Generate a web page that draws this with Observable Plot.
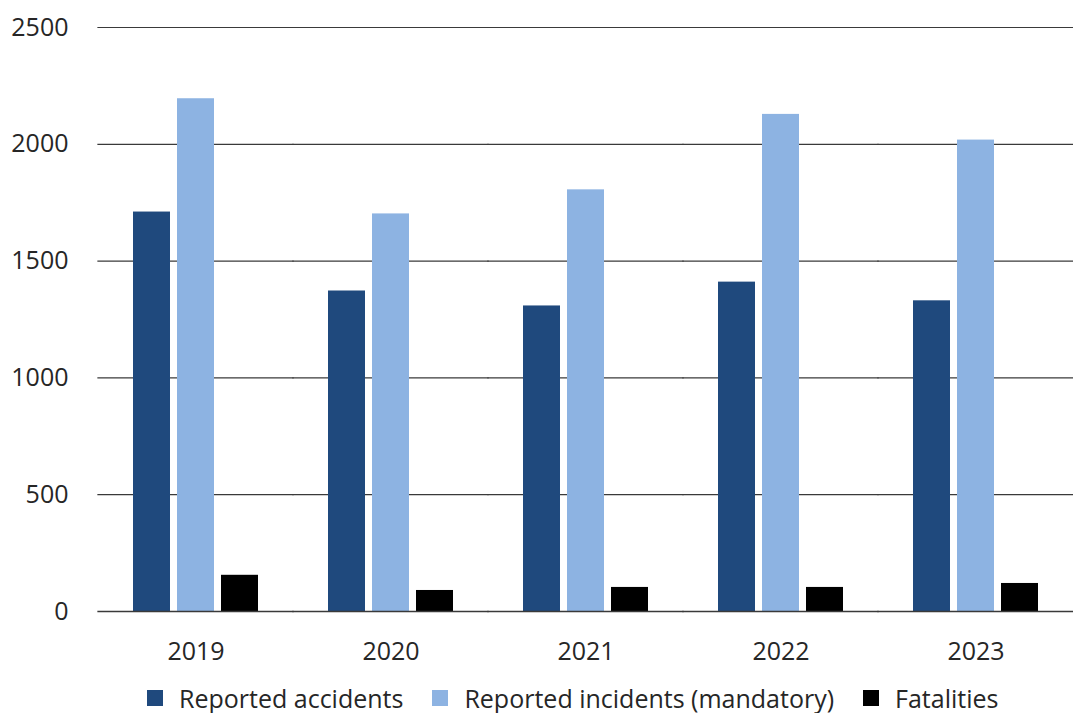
<!DOCTYPE html>
<html>
<head>
<meta charset="utf-8">
<script src="https://cdn.jsdelivr.net/npm/d3@7"></script>
<script src="https://cdn.jsdelivr.net/npm/@observablehq/plot@0.6"></script>
<style>
  html, body { margin: 0; padding: 0; background: #fff; }
  body { font-family: "Open Sans", sans-serif; color: #262626; width: 1073px; }
  #legend { display: flex; justify-content: flex-start; align-items: center; gap: 29px;
            font-size: 25px; padding-left: 147px; margin-top: 9px; line-height: 34px; }
  #legend .item { display: flex; align-items: center; gap: 16px; }
  #legend .swatch { width: 16px; height: 16px; display: inline-block; }
</style>
</head>
<body>
<div id="chart"></div>
<div id="legend"></div>
<script>
// Yearly aviation safety figures
const years = ["2019", "2020", "2021", "2022", "2023"];
const series = ["Reported accidents", "Reported incidents (mandatory)", "Fatalities"];
const accidents = [1710, 1372, 1308, 1410, 1330];
const incidents = [2195, 1702, 1805, 2128, 2018];
const fatalities = [155, 90, 103, 103, 120];
const colors = ["#1F497D", "#8DB3E2", "#000000"];
const yTicks = [0, 500, 1000, 1500, 2000, 2500];

const valuesBySeries = [accidents, incidents, fatalities];
const data = years.flatMap((year, i) =>
  series.map((s, j) => ({year, series: s, value: valuesBySeries[j][i]}))
);

const W = 1073, ML = 97, MR = 0;
const padInner = 0.36, padOuter = padInner / 2;
// Gridlines live in each facet; stretch them across the gaps between year groups
const facetStep = (W - ML - MR) / years.length;
const facetOffset = facetStep * padOuter;
const gridExtend = -(facetOffset + 0.5);

const chart = Plot.plot({
  width: W,
  height: 672,
  marginTop: 27,
  marginBottom: 61,
  marginLeft: ML,
  marginRight: MR,
  style: {fontFamily: "Open Sans, sans-serif", fontSize: "25px", color: "#262626", background: "#fff"},
  fx: {domain: years, paddingInner: padInner, paddingOuter: padOuter, label: null,
       axis: "bottom", tickSize: 0, tickPadding: 31},
  x: {domain: series, paddingInner: 0.16, paddingOuter: 0, axis: null},
  y: {domain: [0, 2500], ticks: yTicks, tickFormat: d => String(d), tickSize: 0,
      tickPadding: Math.round(facetOffset) + 30, label: null},
  color: {domain: series, range: colors},
  marks: [
    Plot.ruleY(yTicks.filter(d => d > 0), {stroke: "#3a3a3a", strokeWidth: 1.2,
      insetLeft: gridExtend, insetRight: gridExtend}),
    Plot.barY(data, {fx: "year", x: "series", y: "value", fill: "series"}),
    Plot.ruleY([0], {stroke: "#3a3a3a", strokeWidth: 1.4,
      insetLeft: gridExtend, insetRight: gridExtend})
  ]
});
document.getElementById("chart").appendChild(chart);

// Legend below the chart
const legend = d3.select("#legend");
series.forEach((s, j) => {
  const item = legend.append("div").attr("class", "item");
  item.append("span").attr("class", "swatch").style("background", colors[j]);
  item.append("span").text(s);
});
</script>
</body>
</html>
